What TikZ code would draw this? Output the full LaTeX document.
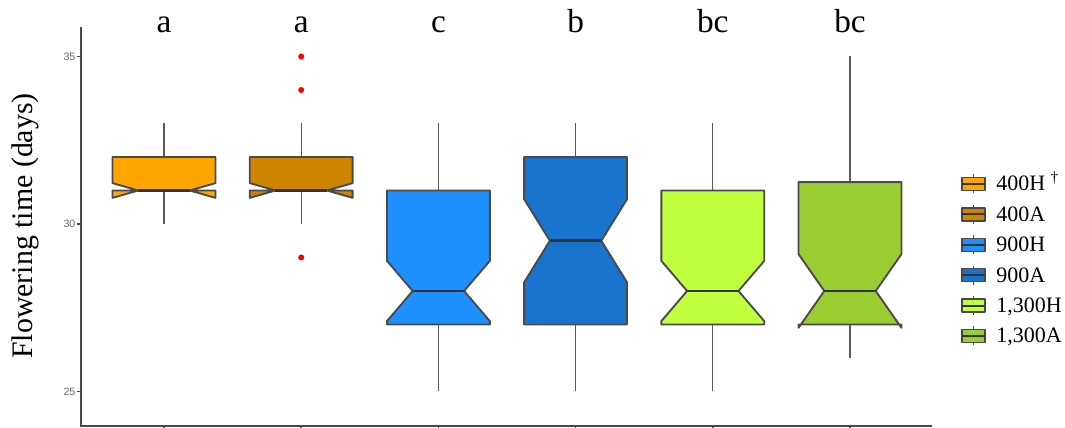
\documentclass[tikz,border=0pt]{standalone}
\usepackage{fontspec}
\setmainfont{Liberation Serif}
\setsansfont{Liberation Sans}
\usetikzlibrary{positioning}
\definecolor{c400H}{HTML}{FFA500}
\definecolor{c400A}{HTML}{CD8500}
\definecolor{c900H}{HTML}{1E90FF}
\definecolor{c900A}{HTML}{1874CD}
\definecolor{c1300H}{HTML}{C0FF3E}
\definecolor{c1300A}{HTML}{9ACD32}
\definecolor{edge}{HTML}{4A4A4A}
\definecolor{medc}{HTML}{333333}
\definecolor{whisk}{HTML}{5A5A5A}
\tikzset{x=0.75pt, y=0.75pt}
\tikzstyle{bx}=[draw=edge, line width=1.4pt, line join=round]
\tikzstyle{wh}=[draw=whisk, line width=1pt]
\tikzstyle{md}=[draw=medc, line width=2.2pt]
\tikzstyle{ax}=[draw=edge, line width=1.2pt]
\tikzstyle{grp}=[font=\fontsize{25}{25}\selectfont, anchor=base, inner sep=0pt]
\tikzstyle{key}=[font=\fontsize{16.5}{16.5}\selectfont, anchor=base west, inner sep=0pt]
\tikzstyle{tck}=[font=\sffamily\fontsize{8}{8}\selectfont, text=black!60, anchor=east, inner sep=1pt]
\tikzstyle{outl}=[circle, fill=red, inner sep=0pt, minimum size=4.5pt]
% notched box: x, colour, lower, notch low, median, notch high, upper, whisker low, whisker high
\newcommand{\nbox}[9]{
  \draw[wh] (#1,#7) -- (#1,#9);
  \draw[wh] (#1,#3) -- (#1,#8);
  \draw[bx, fill=#2] ({#1-0.375},#7) -- ({#1-0.375},#6) -- ({#1-0.1875},#5) -- ({#1-0.375},#4)
    -- ({#1-0.375},#3) -- ({#1+0.375},#3) -- ({#1+0.375},#4) -- ({#1+0.1875},#5)
    -- ({#1+0.375},#6) -- ({#1+0.375},#7) -- cycle;
  \draw[md] ({#1-0.1875},#5) -- ({#1+0.1875},#5);
}

\begin{document}
\begin{tikzpicture}
        \useasboundingbox (0,0) rectangle (1065,428);
        \node[rotate=90, font=\fontsize{22.4}{22.4}\selectfont] (ylab) at (25,202) {Flowering time (days)};
        % data part: one unit per group, one unit per day
        \begin{scope}[x=102.9pt, y=25.125pt, shift={(20.1pt,-600.75pt)}]
        \draw[ax] (0.395,35.88) -- (0.395,23.97) -- (6.598,23.97);
        \foreach \v in {25,30,35}{
            \draw[ax] (0.366,\v) -- (0.395,\v);
            \node[tck] (t\v) at (0.366,\v) {\v};
        }
        \foreach \i in {1,...,6}
            \draw[ax] (\i,23.97) -- (\i,23.85);
        \nbox{1}{c400H}{31}{30.78}{31}{31.22}{32}{30}{33}
        \nbox{2}{c400A}{31}{30.78}{31}{31.22}{32}{30}{33}
        \nbox{3}{c900H}{27}{27.1}{28}{28.9}{31}{25}{33}
        \nbox{4}{c900A}{27}{28.26}{29.5}{30.74}{32}{25}{33}
        \nbox{5}{c1300H}{27}{27.1}{28}{28.9}{31}{25}{33}
        \nbox{6}{c1300A}{27}{26.9}{28}{29.1}{31.25}{26}{35}
        \node[outl] (o1) at (2,35) {};
        \node[outl] (o2) at (2,34) {};
        \node[outl] (o3) at (2,29) {};
        \foreach \g [count=\i] in {a,a,c,b,bc,bc}
            \node[grp] (g\i) at (\i,35.73) {\g};
        \end{scope}
        % legend
        \foreach \c/\t [count=\k from 0] in {c400H/{400H\ \textsuperscript{\textdagger}},c400A/400A,c900H/900H,c900A/900A,c1300H/{1,300H},c1300A/{1,300A}}{
            \draw[wh, draw=edge] (973.5,{244-30.4*\k+9.5}) -- (973.5,{244-30.4*\k-9.5});
            \draw[bx, line width=1pt, fill=\c] (962,{244-30.4*\k-6.5}) rectangle (985,{244-30.4*\k+6.5});
            \draw[medc, line width=1.4pt] (962,{244-30.4*\k}) -- (985,{244-30.4*\k});
            \node[key] (k\k) at (996,{244-30.4*\k-7}) {\t};
        }
\end{tikzpicture}
\end{document}
